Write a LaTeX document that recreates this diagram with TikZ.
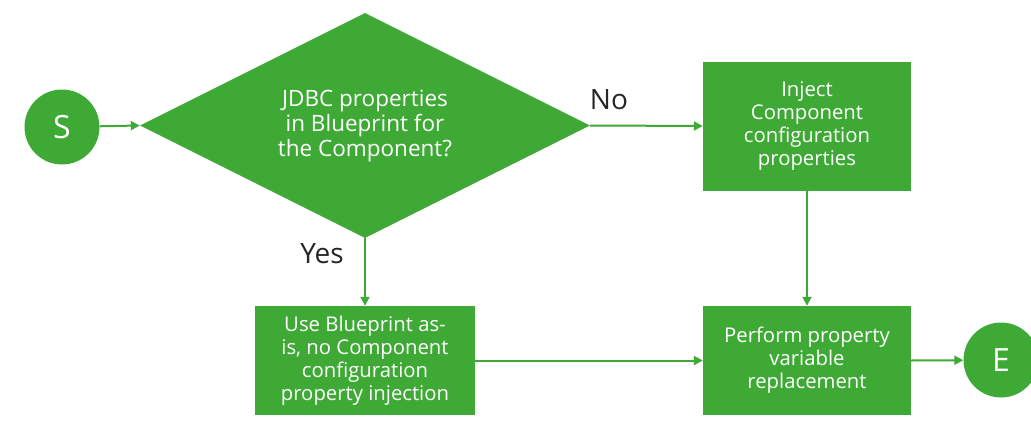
\documentclass[tikz,border=0pt]{standalone}
\usepackage{fontspec}
\setmainfont{Open Sans}
\usetikzlibrary{shapes.geometric,arrows.meta}
\definecolor{flowgreen}{RGB}{62,170,53}
\definecolor{labelgray}{RGB}{38,38,38}
\begin{document}
\begin{tikzpicture}[x=1pt,y=-1pt,
  flow/.style={draw=flowgreen, line width=2pt, -{Triangle[length=9pt,width=9pt]}},
  terminal/.style={circle, fill=flowgreen, minimum size=75pt, inner sep=0pt,
    text=white, font=\fontsize{32}{38}\selectfont},
  decision/.style={diamond, fill=flowgreen, minimum width=450pt, minimum height=225pt,
    inner sep=0pt},
  decisiontext/.style={text=white, align=center, inner sep=0pt,
    font=\fontsize{22.5}{25}\selectfont},
  process/.style={rectangle, fill=flowgreen, inner sep=0pt, text=white, align=center,
    font=\fontsize{20.3}{23}\selectfont},
  answer/.style={text=labelgray, font=\fontsize{28}{32}\selectfont, inner sep=0pt}]
\useasboundingbox (0,0) rectangle (1031,439);

% start / end terminals
\node[terminal] (S) at (62,127) {S};
\node[terminal] (E) at (1001,360) {E};

% decision: the diamond keeps its fixed size, its question is set over it
\node[decision] (Q) at (365,125.5) {};
\node[decisiontext] (Qtext) at (Q.center) {JDBC properties\\in Blueprint for\\the Component?};

% process steps
\node[process, minimum width=208pt, minimum height=129pt] (inject) at (807,126)
  {Inject\\Component\\configuration\\properties};
\node[process, minimum width=220pt, minimum height=109pt] (asis) at (365,360.5)
  {Use Blueprint as-\\is, no Component\\configuration\\property injection};
\node[process, minimum width=208pt, minimum height=109pt] (replace) at (807,360.5)
  {Perform property\\variable\\replacement};

% branch labels
\node[answer] (no) at (609,100) {No};
\node[answer] (yes) at (322,254) {Yes};

% connectors
\draw[flow] (S) -- (Q.west);
\draw[flow] (Q.east) -- (inject.west);
\draw[flow] (Q.south) -- (asis.north);
\draw[flow] (inject.south) -- (replace.north);
\draw[flow] (asis.east) -- (replace.west);
\draw[flow] (replace.east) -- (E);
\end{tikzpicture}
\end{document}
